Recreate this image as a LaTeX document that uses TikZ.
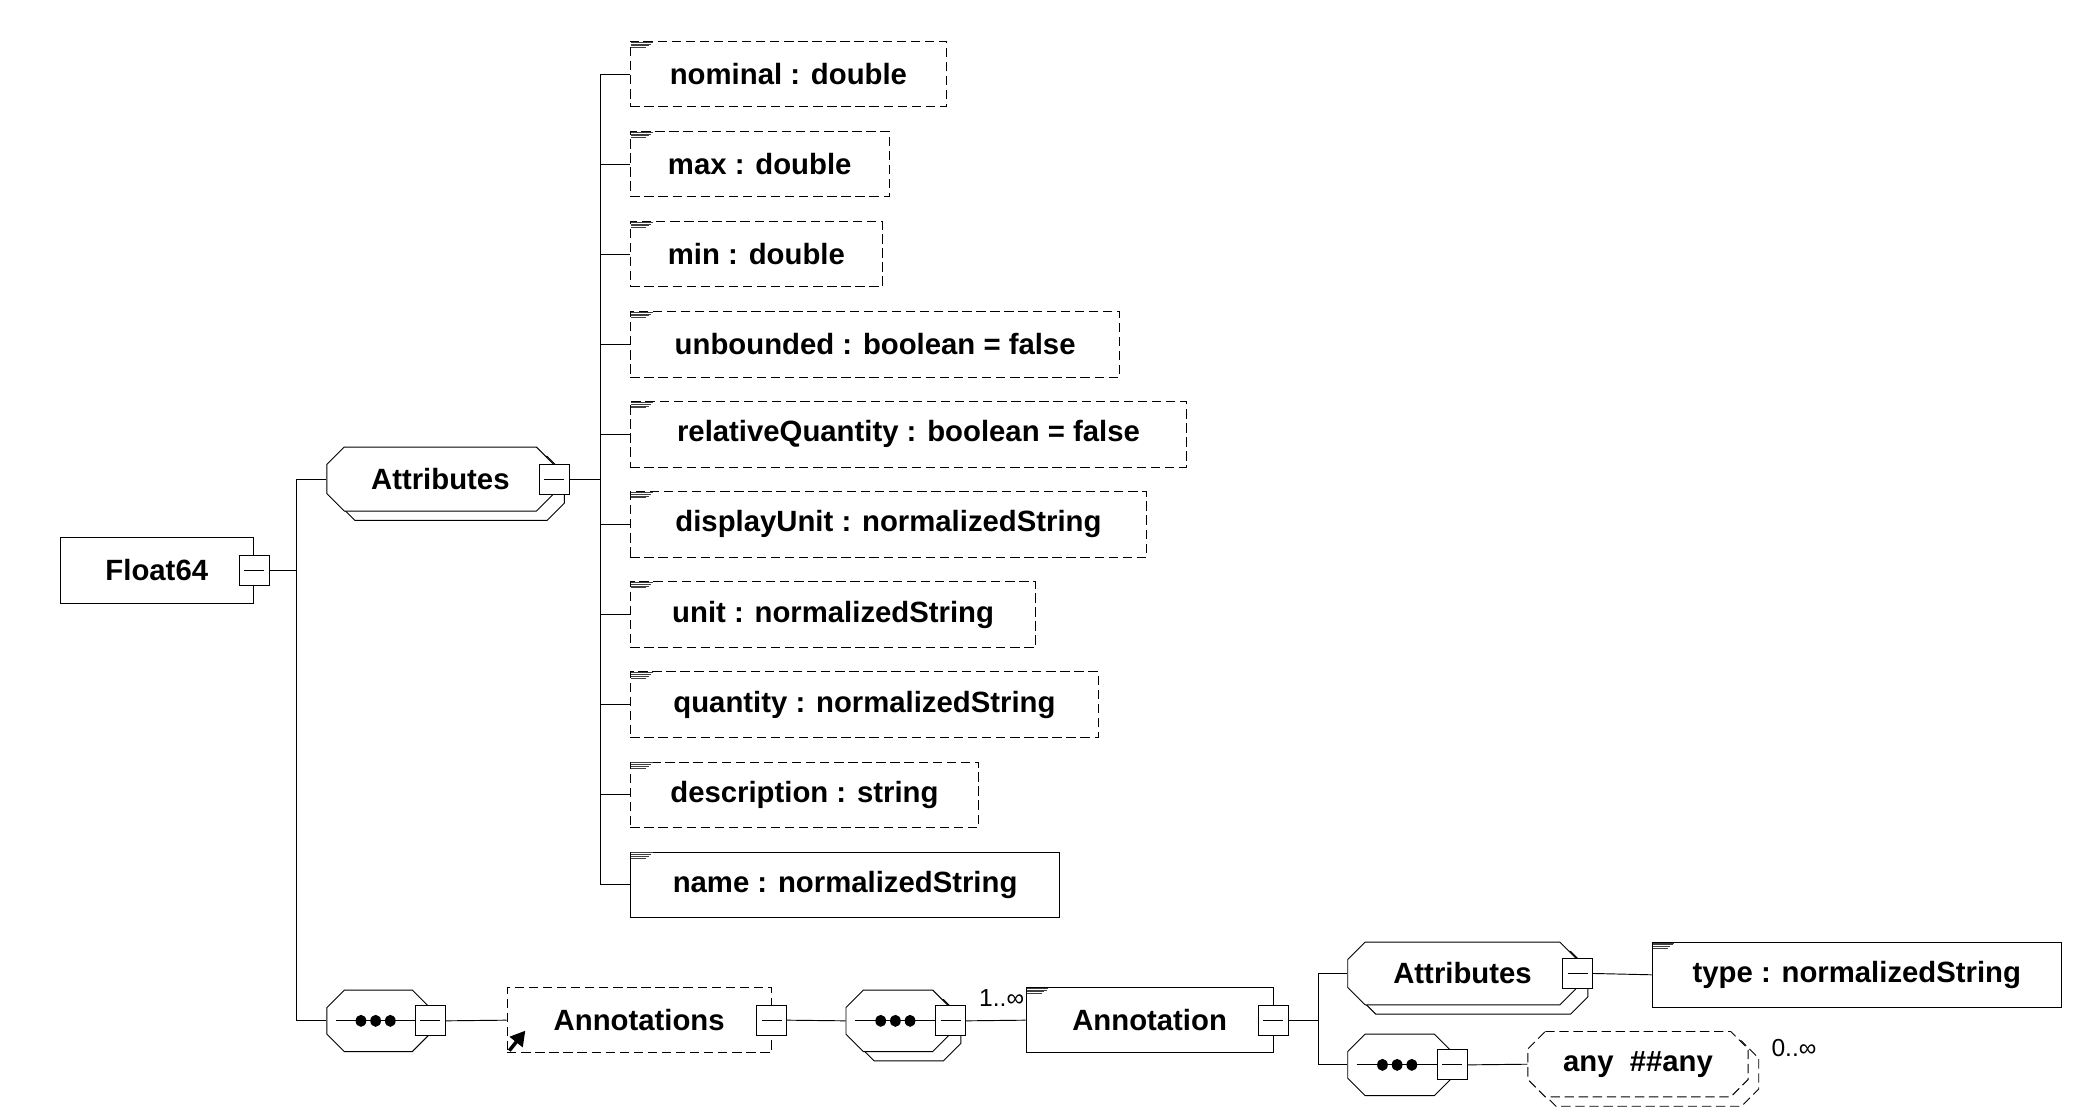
\documentclass[tikz,border=0pt]{standalone}
\usepackage{fontspec}
\setmainfont{Liberation Sans}
\usetikzlibrary{positioning,arrows.meta,calc}
% header lines in the top left corner of an element
\newcommand{\hdr}[1]{%
  \draw[gray!50!black] ([shift={(1,1)}]#1.north west) -- ++(16,0);
  \draw[gray!50!black] ([shift={(1,2.3)}]#1.north west) -- ++(15,0);
  \draw[gray!50!black] ([shift={(1,3.6)}]#1.north west) -- ++(13,0);
  \draw[gray!50!black] ([shift={(1,4.9)}]#1.north west) -- ++(11,0);
}
% octagon of a group: [options]{centre x}{centre y}{width}{height}
\newcommand{\octa}[5][]{%
  \draw[fill=white, #1] ({#2-#4/2+13},{#3-#5/2}) -- ({#2+#4/2-13},{#3-#5/2})
    -- ({#2+#4/2},{#3-#5/2+13}) -- ({#2+#4/2},{#3+#5/2-13})
    -- ({#2+#4/2-13},{#3+#5/2}) -- ({#2-#4/2+13},{#3+#5/2})
    -- ({#2-#4/2},{#3+#5/2-13}) -- ({#2-#4/2},{#3-#5/2+13}) -- cycle;
}
\newcommand{\stackocta}[5][]{%
  \octa[#1, shift={(8,7)}]{#2}{#3}{#4}{#5}
  \octa[#1]{#2}{#3}{#4}{#5}
}
% line and three dots of a sequence
\newcommand{\seqdots}[2]{%
  \draw ([xshift=0.14cm]#1.west) -- (#2.west);
  \fill ([xshift=-0.26cm]#1.center) ellipse [x radius=0.08cm, y radius=0.09cm];
  \fill ([xshift=-0.04cm]#1.center) ellipse [x radius=0.08cm, y radius=0.09cm];
  \fill ([xshift=0.18cm]#1.center) ellipse [x radius=0.08cm, y radius=0.09cm];
}

\begin{document}
\begin{tikzpicture}[x=0.02cm, y=-0.02cm, thin,
    every node/.style={font=\bfseries\fontsize{12.5}{15}\selectfont},
    elem/.style={draw, fill=white, rectangle, minimum height=0.98cm, inner sep=0pt},
    attrbox/.style={elem, anchor=west},
    opt/.style={dash pattern=on 4pt off 2pt},
    minus/.style={draw, fill=white, minimum size=0.45cm, inner sep=0pt,
      path picture={\draw ([xshift=0.075cm]path picture bounding box.west) -- ([xshift=-0.075cm]path picture bounding box.east);}},
    group/.style={rectangle, inner sep=0pt},
    occurs/.style={font=\fontsize{10.5}{12}\selectfont}]
    \useasboundingbox (0,0) rectangle (1567,831.8);

    % root element
    \node[elem, minimum width=2.9cm] (float) at (117.5,427.5) {Float64};
    \node[minus] (floatm) at (float.east) {};
    \coordinate (trunk) at (222,427.5);

    % attributes of Float64
    \stackocta{330}{359}{170}{48}
    \node[group, minimum width=3.4cm, minimum height=0.96cm] (attrs) at (330,359) {Attributes};
    \node[minus] (attrsm) at (attrs.east) {};
    \coordinate (attrbus) at (450,359);

    \node[attrbox, opt, minimum width=4.74cm] (nominal) at (472,55.5) {nominal : double};
    \node[attrbox, opt, minimum width=3.88cm] (max) at (472,123) {max : double};
    \node[attrbox, opt, minimum width=3.78cm] (min) at (472,190.5) {min : double};
    \node[attrbox, opt, minimum width=7.34cm] (unbounded) at (472,258) {unbounded : boolean = false};
    \node[attrbox, opt, minimum width=8.34cm] (relq) at (472,325.5) {relativeQuantity : boolean = false};
    \node[attrbox, opt, minimum width=7.74cm] (dunit) at (472,393) {displayUnit : normalizedString};
    \node[attrbox, opt, minimum width=6.08cm] (unit) at (472,460.5) {unit : normalizedString};
    \node[attrbox, opt, minimum width=7.02cm] (quantity) at (472,528) {quantity : normalizedString};
    \node[attrbox, opt, minimum width=5.22cm] (descr) at (472,595.5) {description : string};
    \node[attrbox, minimum width=6.44cm] (name) at (472,663) {name : normalizedString};
    \hdr{nominal} \hdr{max} \hdr{min} \hdr{unbounded} \hdr{relq}
    \hdr{dunit} \hdr{unit} \hdr{quantity} \hdr{descr} \hdr{name}

    % annotations
    \octa{283.5}{765}{77}{46}
    \node[group, minimum width=1.54cm, minimum height=0.92cm] (seqa) at (283.5,765) {};
    \node[minus] (seqam) at (seqa.east) {};
    \seqdots{seqa}{seqam}
    \node[elem, opt, minimum width=3.96cm] (annots) at (479,764.5) {Annotations};
    \node[minus] (annotsm) at (annots.east) {};
    \draw[line width=1.5pt, -{Triangle[length=0.22cm, width=0.24cm]}] ([shift={(2,-2)}]annots.south west) -- ++(12,-15);

    \stackocta{673}{765}{78}{46}
    \node[group, minimum width=1.56cm, minimum height=0.92cm] (seqb) at (673,765) {};
    \node[minus] (seqbm) at (seqb.east) {};
    \seqdots{seqb}{seqbm}
    \node[elem, minimum width=3.7cm] (annot) at (861.5,764.5) {Annotation};
    \node[minus] (annotm) at (annot.east) {};
    \hdr{annot}
    \node[occurs, anchor=base east] (occa) at ([shift={(5,-10)}]annot.west) {1..∞};
    \coordinate (annotbus) at (988,764.5);

    \stackocta{1096}{729.5}{172}{47}
    \node[group, minimum width=3.44cm, minimum height=0.94cm] (attrsb) at (1096,729.5) {Attributes};
    \node[minus] (attrsbm) at (attrsb.east) {};
    \node[elem, minimum width=6.14cm] (type) at (1391.5,730.5) {type : normalizedString};
    \hdr{type}

    \octa{1049}{798}{78}{46}
    \node[group, minimum width=1.56cm, minimum height=0.92cm] (seqc) at (1049,798) {};
    \node[minus] (seqcm) at (seqc.east) {};
    \seqdots{seqc}{seqcm}
    \stackocta[opt]{1227.5}{797.5}{165}{49}
    \node[group, minimum width=3.3cm, minimum height=0.98cm] (any) at (1227.5,797.5) {any\ \ \#\#any};
    \node[occurs, anchor=base west] (occb) at ([shift={(11,-6)}]any.east) {0..∞};

    % connectors
    \draw (floatm.east) -- (trunk);
    \draw (attrs.west) -| (trunk) |- (seqa.west);
    \draw (attrsm.east) -- (attrbus);
    \draw (attrbus) |- (nominal.west);
    \draw (attrbus) |- (max.west);
    \draw (attrbus) |- (min.west);
    \draw (attrbus) |- (unbounded.west);
    \draw (attrbus) |- (relq.west);
    \draw (attrbus) |- (dunit.west);
    \draw (attrbus) |- (unit.west);
    \draw (attrbus) |- (quantity.west);
    \draw (attrbus) |- (descr.west);
    \draw (attrbus) |- (name.west);
    \draw (seqam.east) -- (annots.west);
    \draw (annotsm.east) -- (seqb.west);
    \draw (seqbm.east) -- (annot.west);
    \draw (annotm.east) -- (annotbus);
    \draw (attrsb.west) -| (annotbus) |- (seqc.west);
    \draw (attrsbm.east) -- (type.west);
    \draw (seqcm.east) -- (any.west);
\end{tikzpicture}
\end{document}
